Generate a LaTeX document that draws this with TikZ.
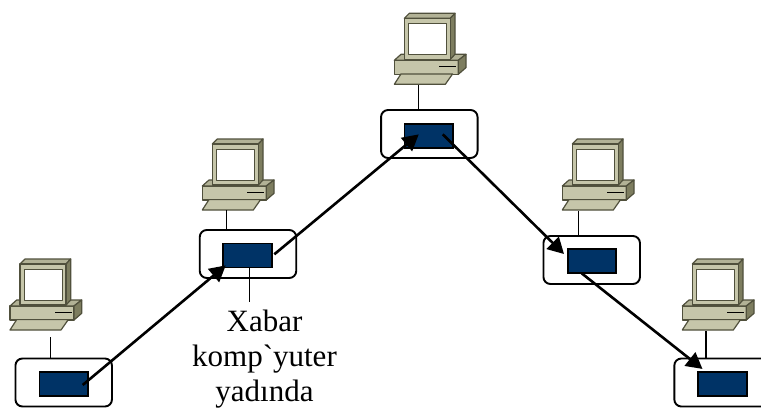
\documentclass[tikz,border=0pt]{standalone}
\usepackage{fontspec}
\usetikzlibrary{arrows.meta}
\newfontfamily\labfont{Liberation Serif}
\definecolor{pcfront}{RGB}{198,198,170}
\definecolor{pctop}{RGB}{178,178,150}
\definecolor{pcside}{RGB}{125,125,95}
\definecolor{pcedge}{RGB}{80,80,60}
\definecolor{cardblue}{RGB}{0,51,102}
\tikzset{
  x=1pt,y=-1pt,
  pcpart/.style={draw=pcedge,line width=1.2pt,line join=round},
  hub/.style={draw=black,line width=1.9pt,rounded corners=7pt,fill=white,inner sep=0,minimum width=96.5pt,minimum height=48pt},
  card/.style={draw=black,line width=1.6pt,fill=cardblue,inner sep=0,minimum width=48.5pt,minimum height=24pt},
  stem/.style={draw=black,line width=1.3pt},
  msg/.style={draw=black,line width=2.6pt,-{Triangle[length=16pt,width=17pt]},shorten >=-1pt},
  pics/computer/.style={code={
    \path[pcpart,fill=pcfront] (-10,47) -- (54,47) -- (54,61) -- (-10,61) -- cycle;
    \path[pcpart,fill=pctop] (-10,47) -- (-3.3,41) -- (61.7,41) -- (54,47) -- cycle;
    \path[pcpart,fill=pcside] (54,47) -- (61.7,41) -- (61.7,54.3) -- (54,61) -- cycle;
    \draw[black,line width=1.1pt] (35,53.3) -- (51.7,53.3);
    \path[pcpart,fill=pcfront] (-3.3,60.6) -- (48.3,60.6) -- (41,71) -- (-10,71) -- cycle;
    \path[pcpart,fill=pctop] (0,5) -- (5,0) -- (50.7,0) -- (46,5) -- cycle;
    \path[pcpart,fill=pcside] (46,5) -- (50.7,0) -- (50.7,41) -- (46,46) -- cycle;
    \path[pcpart,fill=pcfront] (0,5) rectangle (46,46);
    \path[pcpart,fill=white,line width=1pt] (4.3,10.3) rectangle (42.3,41);
  }}
}
% name, monitor left, monitor top, stem x, stem top, hub centre x, hub centre y, card centre x, card centre y
\newcommand{\station}[9]{%
  \pic at (#2,#3) {computer};
  \node[hub] (hub#1) at (#6,#7) {};
  \node[card] (card#1) at (#8,#9) {};
  \coordinate (stemtop#1) at (#4,#5);
  \draw[stem] (stemtop#1) -- (stemtop#1 |- hub#1.north);
}
\begin{document}
\begin{tikzpicture}
\useasboundingbox (0,0) rectangle (761,408);
\clip (0,0) rectangle (761,408);
\station{A}{20}{259}{50.3}{337}{63.7}{382.5}{63.7}{384}
\station{B}{212.3}{139}{226.3}{210}{248}{254}{247.5}{255.5}
\station{C}{404.3}{13.3}{418.3}{85}{429.3}{134}{428.8}{135.8}
\station{D}{572.3}{139}{578.3}{211}{591.7}{260}{592}{261.2}
\station{E}{692.3}{259}{706}{331}{722.6}{382.5}{722.5}{384}

\coordinate (a1) at (82.7,385);
\coordinate (b0) at (225,266);
\coordinate (b1) at (274.3,254.3);
\coordinate (c0) at (418,135);
\coordinate (c1) at (442.7,134.3);
\coordinate (d0) at (563.3,253.3);
\coordinate (d1) at (581.7,273.3);
\coordinate (e0) at (701.7,368.3);
\draw[msg] (a1) -- (b0);
\draw[msg] (b1) -- (c0);
\draw[msg] (c1) -- (d0);
\draw[msg] (d1) -- (e0);

\coordinate (noteline) at (249.5,302);
\draw[stem] (cardB.south -| noteline) -- (noteline);
\node[font=\labfont\fontsize{31}{35}\selectfont,align=center,inner sep=0,anchor=base] (note) at (264.5,401)
  {Xabar\\komp`yuter\\yadında};
\end{tikzpicture}
\end{document}
